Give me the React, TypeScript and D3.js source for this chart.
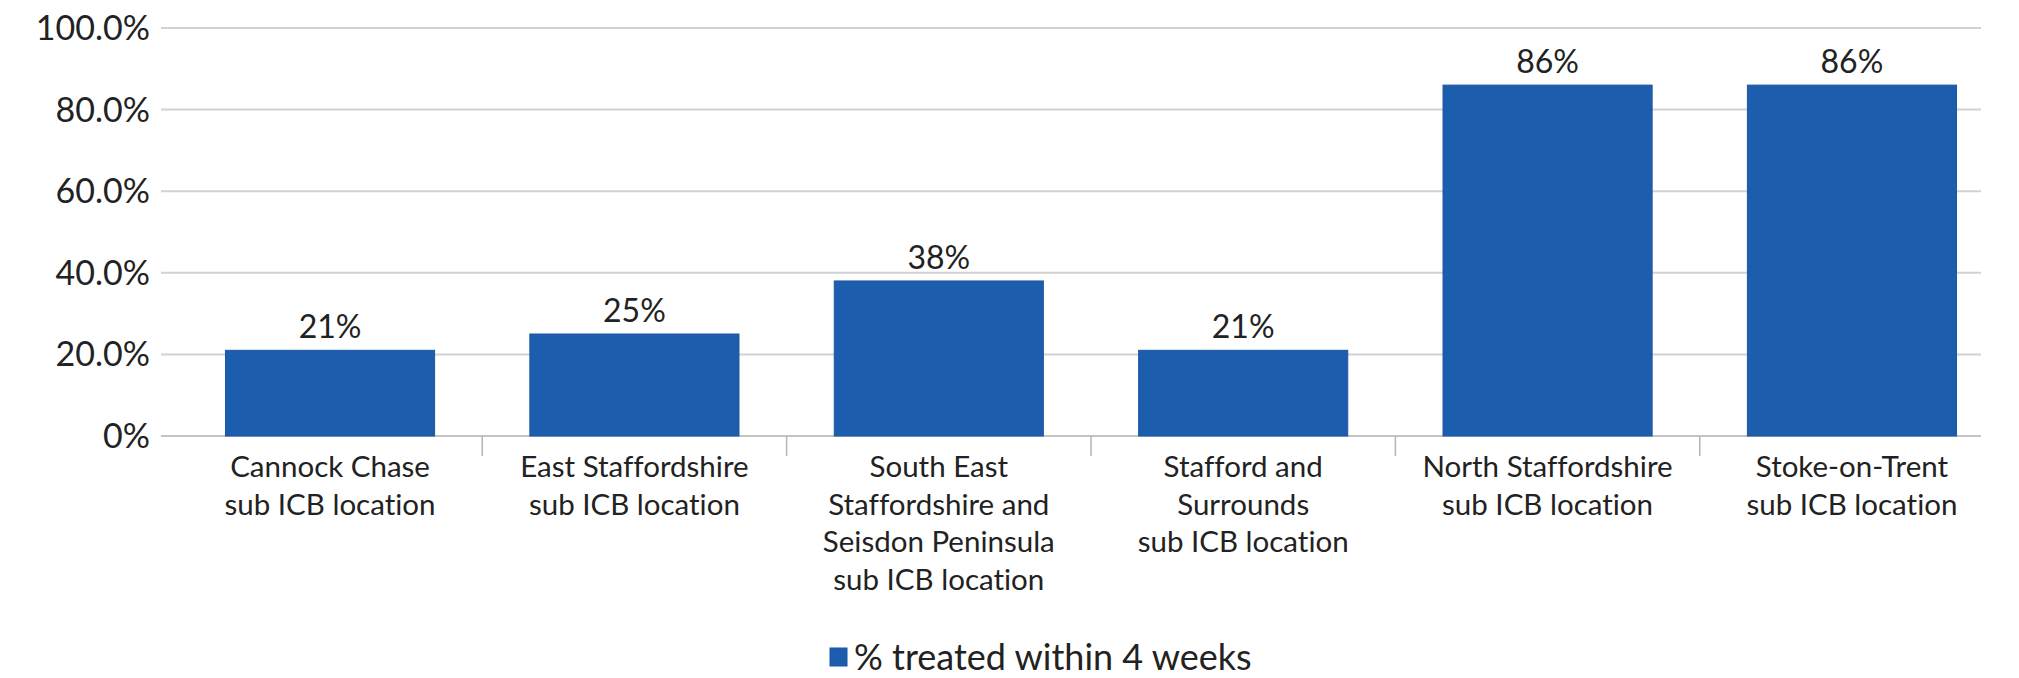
import React from "react";
import * as d3 from "d3";

// Share of patients treated within 4 weeks, by sub ICB location
const categoryLines: string[][] = [
  ["Cannock Chase", "sub ICB location"],
  ["East Staffordshire", "sub ICB location"],
  ["South East", "Staffordshire and", "Seisdon Peninsula", "sub ICB location"],
  ["Stafford and", "Surrounds", "sub ICB location"],
  ["North Staffordshire", "sub ICB location"],
  ["Stoke-on-Trent", "sub ICB location"],
];
const treatedWithin4Weeks: number[] = [21, 25, 38, 21, 86, 86];
const yTickValues: number[] = [0, 20, 40, 60, 80, 100];
const yTickLabels: string[] = ["0%", "20.0%", "40.0%", "60.0%", "80.0%", "100.0%"];
const seriesName = "% treated within 4 weeks";

const WIDTH = 2019;
const HEIGHT = 678;
const FONT = "Lato, 'Open Sans', sans-serif";
const BAR_COLOR = "#1c5ead";
const TEXT_COLOR = "#222222";

export default function App() {
  const gridLeft = 161;
  const gridRight = 1981;
  const y = d3.scaleLinear().domain([0, 100]).range([436, 28]);
  const x = d3
    .scaleBand<number>()
    .domain(d3.range(treatedWithin4Weeks.length))
    .range([178, 2004])
    .paddingInner(0.313)
    .paddingOuter(0.156);
  const step = x.step();
  const separators = d3.range(1, treatedWithin4Weeks.length).map(
    (i) => (x(i) as number) - (step * x.paddingInner()) / 2
  );
  const textStyle = { fontVariantLigatures: "none" } as React.CSSProperties;

  return (
    <svg
      width={WIDTH}
      height={HEIGHT}
      viewBox={`0 0 ${WIDTH} ${HEIGHT}`}
      style={{ position: "absolute", left: 0, top: 0, background: "#ffffff" }}
      fontFamily={FONT}
    >
      {/* horizontal gridlines and y labels */}
      {yTickValues.map((v, i) => (
        <g key={`y-${v}`}>
          <line
            x1={gridLeft}
            x2={gridRight}
            y1={y(v)}
            y2={y(v)}
            stroke={v === 0 ? "#c4c4c4" : "#d2d2d2"}
            strokeWidth={2}
          />
          <text
            x={150}
            y={y(v) + 12}
            textAnchor="end"
            fontSize={34}
            fill={TEXT_COLOR}
            style={textStyle}
          >
            {yTickLabels[i]}
          </text>
        </g>
      ))}

      {/* bars */}
      {treatedWithin4Weeks.map((v, i) => (
        <rect
          key={`bar-${i}`}
          x={x(i)}
          y={y(v)}
          width={x.bandwidth()}
          height={y(0) - y(v)}
          fill={BAR_COLOR}
          stroke="#1a57a0"
          strokeWidth={1}
        />
      ))}

      {/* category separators below the axis */}
      {separators.map((sx, i) => (
        <line
          key={`sep-${i}`}
          x1={sx}
          x2={sx}
          y1={y(0)}
          y2={y(0) + 20}
          stroke="#b5b5b5"
          strokeWidth={1.5}
        />
      ))}

      {/* value labels */}
      {treatedWithin4Weeks.map((v, i) => (
        <text
          key={`val-${i}`}
          x={(x(i) as number) + x.bandwidth() / 2}
          y={y(v) - 12}
          textAnchor="middle"
          fontSize={32}
          fill={TEXT_COLOR}
          style={textStyle}
        >
          {`${v}%`}
        </text>
      ))}

      {/* category labels */}
      {categoryLines.map((lines, i) => (
        <text
          key={`cat-${i}`}
          textAnchor="middle"
          fontSize={29.5}
          fill={TEXT_COLOR}
          style={textStyle}
        >
          {lines.map((line, j) => (
            <tspan
              key={j}
              x={(x(i) as number) + x.bandwidth() / 2}
              y={477 + j * 37.5}
            >
              {line}
            </tspan>
          ))}
        </text>
      ))}

      {/* legend */}
      <rect x={830} y={648} width={17} height={18} fill={BAR_COLOR} stroke="#1a57a0" strokeWidth={1} />
      <text x={854} y={670} fontSize={36} fill={TEXT_COLOR} style={textStyle}>
        {seriesName}
      </text>
    </svg>
  );
}
